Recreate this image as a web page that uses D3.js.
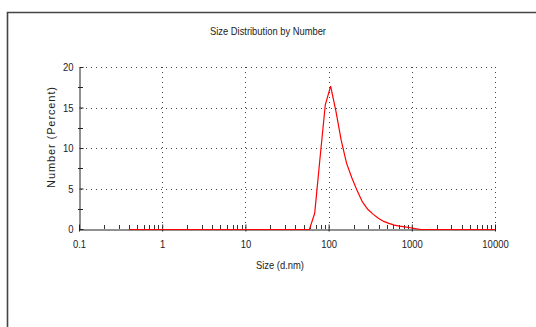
<!DOCTYPE html>
<html>
<head>
<meta charset="utf-8">
<script src="https://cdn.jsdelivr.net/npm/d3@7"></script>
<style>
  body { margin: 0; background: #fff; }
  svg text { font-family: "Liberation Sans", Arial, sans-serif; fill: #222; }
</style>
</head>
<body>
<div class="chart"></div>
<script>
// size classes (d.nm) and number distribution (%)
const sizes = [0.4, 0.4632, 0.5365, 0.6213, 0.7195, 0.8332, 0.9649, 1.117, 1.294, 1.499,
    1.736, 2.010, 2.328, 2.696, 3.122, 3.615, 4.187, 4.849, 5.615, 6.503,
    7.531, 8.721, 10.10, 11.70, 13.54, 15.69, 18.17, 21.04, 24.36, 28.21,
    32.67, 37.84, 43.82, 50.75, 58.77, 68.06, 78.82, 91.28, 105.7, 122.4,
    141.8, 164.2, 190.1, 220.2, 255.0, 295.3, 342.0, 396.1, 458.7, 531.2,
    615.1, 712.4, 825.0, 955.4, 1106, 1281, 1484, 1718, 1990, 2305,
    2669, 3091, 3580, 4145, 4801, 5560, 6439, 7456, 8635, 10000];
const numberPct = [0, 0, 0, 0, 0, 0, 0, 0, 0, 0,
    0, 0, 0, 0, 0, 0, 0, 0, 0, 0,
    0, 0, 0, 0, 0, 0, 0, 0, 0, 0,
    0, 0, 0, 0, 0, 2.0, 8.8, 15.4, 17.7, 14.6,
    11.0, 8.2, 6.4, 4.8, 3.4, 2.5, 1.9, 1.4, 1.0, 0.75,
    0.55, 0.42, 0.32, 0.22, 0.1, 0, 0, 0, 0, 0,
    0, 0, 0, 0, 0, 0, 0, 0, 0, 0];
const xTicks = [0.1, 1, 10, 100, 1000, 10000];
const yTicks = [0, 5, 10, 15, 20];
const yMinor = [2.5, 7.5, 12.5, 17.5];

const W = 536, H = 327;
const margin = {top: 67, right: 41, bottom: 98, left: 79};

const svg = d3.select("div.chart")
    .append("svg")
        .attr("width", W)
        .attr("height", H);

// outer frame
svg.append("path")
    .attr("d", `M7.5,${H} L7.5,12.5 L${W},12.5`)
    .attr("fill", "none")
    .attr("stroke", "#444")
    .attr("stroke-width", 1.6);

const x = d3.scaleLog()
    .domain([0.1, 10000])
    .range([margin.left, W - margin.right]);
const y = d3.scaleLinear()
    .domain([0, 20])
    .range([H - margin.bottom, margin.top]);

// minor x ticks 2..9 in every decade
let xMinor = [];
xTicks.slice(0, -1).forEach(d => {
    for (let k = 2; k <= 9; k++) xMinor.push(d * k);
});

// dotted grid
svg.append("g")
    .selectAll("line")
    .data(xTicks.slice(1))
    .join("line")
    .attr("x1", d => Math.round(x(d)) + 0.5)
    .attr("x2", d => Math.round(x(d)) + 0.5)
    .attr("y1", y(20))
    .attr("y2", y(0))
    .attr("stroke", "#444")
    .attr("stroke-dasharray", "1,4");
svg.append("g")
    .selectAll("line")
    .data(yTicks.slice(1))
    .join("line")
    .attr("x1", x(0.1) + 2)
    .attr("x2", x(10000))
    .attr("y1", d => Math.round(y(d)) + 0.5)
    .attr("y2", d => Math.round(y(d)) + 0.5)
    .attr("stroke", "#444")
    .attr("stroke-dasharray", "1,4");

// axes
const xAxis = svg.append("g")
    .attr("transform", `translate(0,${Math.round(y(0)) + 0.5})`)
    .call(d3.axisBottom(x).tickValues(xTicks).tickFormat(d => String(d)).tickSizeInner(2).tickSizeOuter(0).tickPadding(9));
xAxis.select(".domain").attr("stroke", "#222");
xAxis.selectAll(".tick line").attr("y1", -5).attr("stroke", "#222");
xAxis.selectAll(".tick text").attr("font-size", 11).attr("fill", "#222")
    .attr("textLength", function() { return this.getComputedTextLength() * 0.86; })
    .attr("lengthAdjust", "spacingAndGlyphs");

svg.append("g")
    .selectAll("line")
    .data(xMinor)
    .join("line")
    .attr("x1", d => Math.round(x(d)) + 0.5)
    .attr("x2", d => Math.round(x(d)) + 0.5)
    .attr("y1", y(0) - 4)
    .attr("y2", y(0))
    .attr("stroke", "#333");

const yAxis = svg.append("g")
    .attr("transform", `translate(${Math.round(x(0.1)) + 0.5},0)`)
    .call(d3.axisLeft(y).tickValues(yTicks).tickSizeInner(3).tickSizeOuter(0).tickPadding(3));
yAxis.select(".domain").attr("stroke", "#222");
yAxis.selectAll(".tick line").attr("x2", 4).attr("stroke", "#222");
yAxis.selectAll("text").attr("font-size", 11).attr("fill", "#222")
    .attr("textLength", function() { return this.getComputedTextLength() * 0.86; })
    .attr("lengthAdjust", "spacingAndGlyphs");

svg.append("g")
    .selectAll("line")
    .data(yMinor)
    .join("line")
    .attr("x1", x(0.1) - 1)
    .attr("x2", x(0.1) + 4)
    .attr("y1", d => Math.round(y(d)) + 0.5)
    .attr("y2", d => Math.round(y(d)) + 0.5)
    .attr("stroke", "#222");

// distribution curve, drawn over the zero line
const line = d3.line()
    .x((d, i) => x(sizes[i]))
    .y(d => y(d));
svg.append("path")
    .datum(numberPct)
    .attr("transform", "translate(0,0.5)")
    .attr("d", line)
    .attr("fill", "none")
    .attr("stroke", "#ff0000")
    .attr("stroke-width", 1.2);

// titles
svg.append("text")
    .attr("x", 268)
    .attr("y", 35)
    .attr("text-anchor", "middle")
    .attr("font-size", 11)
    .attr("textLength", 116)
    .attr("lengthAdjust", "spacingAndGlyphs")
    .text("Size Distribution by Number");

svg.append("text")
    .attr("x", 280)
    .attr("y", 269)
    .attr("text-anchor", "middle")
    .attr("font-size", 11)
    .attr("textLength", 48)
    .attr("lengthAdjust", "spacingAndGlyphs")
    .text("Size (d.nm)");

svg.append("text")
    .attr("transform", "translate(55,137) rotate(-90)")
    .attr("text-anchor", "middle")
    .attr("font-size", 11)
    .attr("letter-spacing", "0.9px")
    .text("Number (Percent)");
</script>
</body>
</html>
